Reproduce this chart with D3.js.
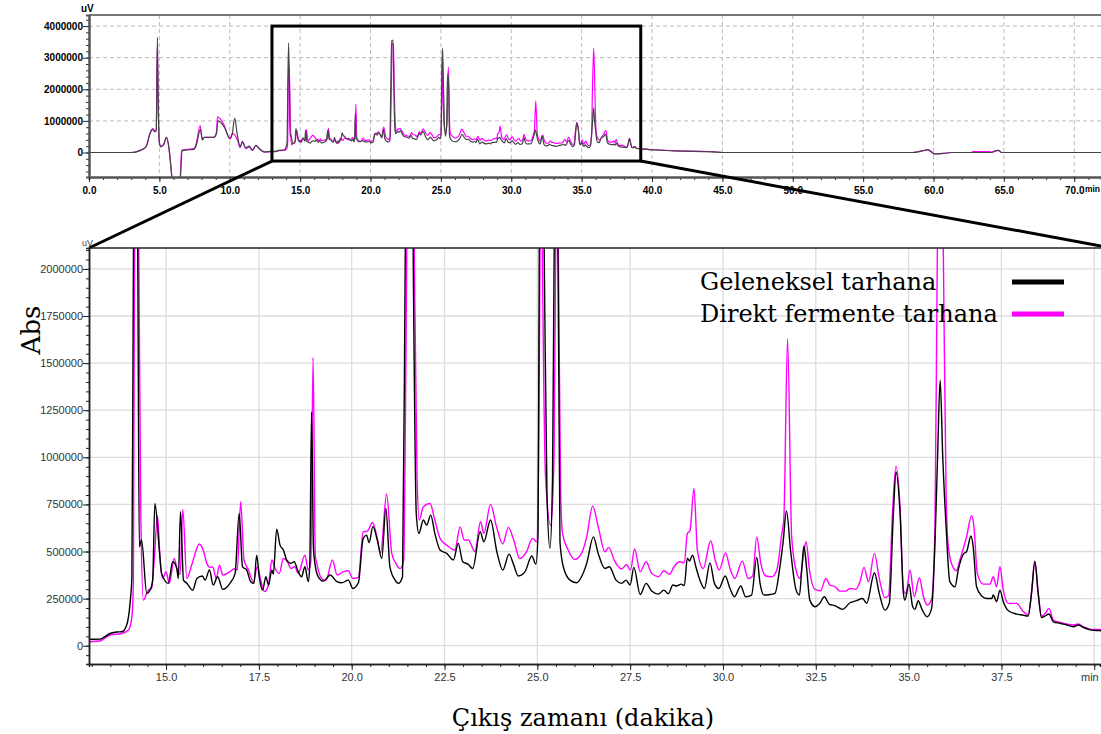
<!DOCTYPE html>
<html>
<head>
<meta charset="utf-8">
<script src="https://cdn.jsdelivr.net/npm/d3@7"></script>
<style>
body { margin: 0; background: #fff; }
text { font-family: "Liberation Sans", Arial, sans-serif; }
</style>
</head>
<body>
<svg id="svg1" width="1101" height="734"></svg>
<script>
// retention time (min), signal (uV)
var geleneksel = [
  [0,0],[3.0,0],[3.6,60000],[4.05,180000],[4.34,600000],[4.53,730000],[4.69,650000],[4.78,700000],[4.86,3640000],[4.93,1200000],
  [5.0,300000],[5.1,180000],[5.3,250000],[5.5,470000],[5.67,180000],[5.83,-500000],[5.95,-1000000],[6.45,-1000000],[6.62,50000],
  [7.0,80000],[7.45,100000],[7.6,200000],[7.92,730000],[8.05,400000],[8.2,480000],[8.87,480000],[9.06,600000],[9.16,1000000],
  [9.59,820000],[10.02,450000],[10.18,600000],[10.35,1080000],[10.54,550000],[10.74,180000],[10.9,350000],[11.14,150000],
  [11.38,200000],[11.62,80000],[11.86,230000],[12.1,130000],[12.45,20000],[12.91,34000],
  [13.22,35000],[13.49,65000],[13.67,73000],[13.81,74000],[13.94,110000],[14.03,225000],[14.08,366000],[14.12,2000000],
  [14.18,3460000],[14.24,2000000],[14.28,525000],[14.34,561000],[14.48,278000],[14.59,304000],[14.64,348000],[14.70,755000],
  [14.82,508000],[14.88,384000],[15.06,331000],[15.18,446000],[15.29,410000],[15.33,357000],[15.39,711000],[15.47,348000],
  [15.56,331000],[15.72,295000],[15.83,357000],[15.98,370000],[16.05,348000],[16.17,402000],[16.27,322000],[16.39,366000],
  [16.53,299000],[16.72,331000],[16.86,384000],[16.97,702000],[17.06,419000],[17.17,402000],[17.28,340000],[17.37,331000],
  [17.44,481000],[17.51,366000],[17.60,295000],[17.69,366000],[17.76,322000],[17.85,402000],[17.89,380000],[17.98,619000],
  [18.07,534000],[18.16,508000],[18.25,455000],[18.36,437000],[18.45,446000],[18.56,393000],[18.65,366000],[18.74,419000],
  [18.83,340000],[18.87,420000],[18.92,1240000],[18.97,520000],[19.01,437000],[19.10,366000],[19.24,343000],[19.42,375000],
  [19.60,340000],[19.73,334000],[19.91,348000],[20.03,304000],[20.18,334000],[20.31,570000],[20.40,587000],[20.47,547000],
  [20.57,632000],[20.69,561000],[20.81,463000],[20.92,729000],[21.03,419000],[21.17,348000],[21.26,331000],[21.37,366000],
  [21.44,2000000],[21.5,3550000],[21.6,3550000],[21.66,2000000],[21.74,700000],[21.81,596000],[21.93,667000],[22.02,640000],
  [22.13,693000],[22.24,596000],[22.38,508000],[22.56,490000],[22.74,455000],[22.87,543000],[22.99,446000],[23.14,432000],
  [23.26,410000],[23.46,605000],[23.56,552000],[23.74,667000],[23.91,499000],[24.07,402000],[24.24,486000],[24.35,437000],
  [24.49,370000],[24.67,393000],[24.85,476000],[24.96,433000],[25.02,600000],[25.05,2000000],[25.12,3300000],[25.19,2000000],
  [25.26,800000],[25.34,517000],[25.41,900000],[25.45,2000000],[25.5,2500000],[25.56,2000000],[25.61,552000],[25.70,419000],
  [25.88,348000],[26.06,334000],[26.19,366000],[26.33,437000],[26.51,578000],[26.64,490000],[26.82,410000],[26.94,419000],
  [27.12,348000],[27.27,331000],[27.39,348000],[27.50,322000],[27.60,416000],[27.77,272000],[27.93,331000],[28.08,290000],
  [28.26,274000],[28.41,295000],[28.53,276000],[28.65,322000],[28.75,317000],[28.87,327000],[28.96,320000],[29.04,464000],
  [29.10,450000],[29.18,481000],[29.27,419000],[29.38,348000],[29.50,304000],[29.65,440000],[29.77,331000],[29.89,304000],
  [30.06,370000],[30.19,304000],[30.31,260000],[30.48,317000],[30.61,260000],[30.77,269000],[30.91,469000],[31.0,330000],
  [31.11,269000],[31.27,272000],[31.40,278000],[31.54,428000],[31.62,550000],[31.71,716000],[31.82,508000],[31.97,295000],
  [32.06,269000],[32.12,400000],[32.18,529000],[32.25,419000],[32.34,242000],[32.48,207000],[32.61,225000],[32.73,260000],
  [32.86,221000],[33.02,212000],[33.22,193000],[33.42,228000],[33.60,239000],[33.76,251000],[33.87,225000],[34.08,387000],
  [34.21,278000],[34.36,189000],[34.48,225000],[34.59,702000],[34.66,923000],[34.77,702000],[34.86,278000],[34.90,242000],
  [35.01,327000],[35.11,207000],[35.17,193000],[35.26,239000],[35.35,198000],[35.50,154000],[35.62,198000],[35.71,543000],
  [35.78,1000000],[35.85,1410000],[35.92,1000000],[36.01,632000],[36.11,340000],[36.25,313000],[36.34,405000],[36.49,490000],
  [36.56,499000],[36.68,582000],[36.74,525000],[36.83,313000],[36.97,264000],[37.10,251000],[37.24,251000],[37.28,269000],
  [37.37,234000],[37.46,295000],[37.55,234000],[37.69,186000],[37.91,168000],[38.07,163000],[38.22,157000],[38.31,278000],
  [38.40,449000],[38.49,278000],[38.58,150000],[38.67,157000],[38.78,168000],[38.90,127000],[39.08,119000],[39.26,110000],
  [39.44,101000],[39.57,110000],[39.71,97000],[39.93,83000],[40.15,80000],
  [41.5,50000],[44.3,20000],[45,0],[58.5,0],[59.2,50000],[59.6,80000],[60.1,-50000],[60.7,-30000],[61.3,0],[64.0,0],
  [64.25,30000],[64.6,70000],[64.85,0],[72,0]
];

var direkt = [
  [0,0],[3.0,0],[3.6,60000],[4.05,190000],[4.34,620000],[4.53,760000],[4.69,680000],[4.78,700000],[4.84,3300000],[4.92,1500000],
  [5.0,320000],[5.1,200000],[5.3,250000],[5.5,480000],[5.67,180000],[5.83,-500000],[5.95,-1000000],[6.45,-1000000],[6.58,80000],
  [7.0,100000],[7.45,120000],[7.6,250000],[7.9,850000],[8.05,420000],[8.2,480000],[8.87,480000],[9.06,650000],[9.13,1130000],
  [9.59,880000],[10.02,420000],[10.18,600000],[10.35,560000],[10.54,400000],[10.74,150000],[10.9,330000],[11.14,120000],
  [11.38,180000],[11.62,60000],[11.86,220000],[12.1,110000],[12.45,10000],[12.91,21000],
  [13.22,25000],[13.49,57000],[13.81,65000],[13.99,83000],[14.08,154000],[14.12,331000],[14.15,2000000],[14.21,2730000],
  [14.27,2000000],[14.32,700000],[14.39,242000],[14.52,295000],[14.61,304000],[14.68,450000],[14.77,690000],[14.84,455000],
  [14.91,357000],[15.0,393000],[15.09,331000],[15.22,463000],[15.33,384000],[15.38,380000],[15.45,723000],[15.56,357000],
  [15.69,428000],[15.90,540000],[16.0,508000],[16.10,437000],[16.18,416000],[16.26,418000],[16.35,357000],[16.44,428000],
  [16.53,375000],[16.72,393000],[16.86,410000],[16.92,402000],[17.01,764000],[17.10,455000],[17.22,402000],[17.35,340000],
  [17.46,419000],[17.55,348000],[17.65,287000],[17.76,322000],[17.85,455000],[17.94,410000],[18.05,384000],[18.16,463000],
  [18.27,446000],[18.36,410000],[18.47,419000],[18.56,384000],[18.74,481000],[18.83,402000],[18.9,450000],[18.96,1530000],
  [19.02,480000],[19.06,437000],[19.19,357000],[19.31,348000],[19.48,455000],[19.61,375000],[19.78,393000],[19.91,398000],
  [20.03,357000],[20.18,363000],[20.31,605000],[20.42,608000],[20.56,654000],[20.67,587000],[20.78,493000],[20.94,805000],
  [21.08,490000],[21.19,437000],[21.30,409000],[21.40,450000],[21.48,2000000],[21.54,3450000],[21.63,3450000],[21.69,2000000],
  [21.76,900000],[21.82,667000],[21.93,738000],[22.11,755000],[22.24,667000],[22.38,570000],[22.56,534000],[22.78,508000],
  [22.92,631000],[23.03,561000],[23.14,561000],[23.32,499000],[23.47,658000],[23.56,596000],[23.74,750000],[23.90,632000],
  [24.07,540000],[24.22,628000],[24.35,570000],[24.53,463000],[24.71,499000],[24.87,570000],[24.98,552000],[25.03,900000],
  [25.07,2000000],[25.1,2900000],[25.14,2000000],[25.22,900000],[25.36,640000],[25.45,1000000],[25.49,2000000],[25.53,2700000],
  [25.57,2000000],[25.63,800000],[25.68,596000],[25.83,508000],[26.01,458000],[26.19,490000],[26.33,578000],[26.49,741000],
  [26.64,632000],[26.82,499000],[26.92,522000],[27.09,446000],[27.27,407000],[27.40,430000],[27.51,402000],[27.62,513000],
  [27.77,393000],[27.93,446000],[28.08,384000],[28.26,366000],[28.41,398000],[28.56,379000],[28.68,419000],[28.84,446000],
  [28.96,440000],[29.04,596000],[29.11,610000],[29.22,835000],[29.31,508000],[29.47,410000],[29.67,557000],[29.79,455000],
  [29.90,402000],[30.07,493000],[30.19,410000],[30.32,357000],[30.52,449000],[30.68,357000],[30.80,370000],[30.91,578000],
  [31.02,437000],[31.16,370000],[31.31,366000],[31.45,402000],[31.58,587000],[31.64,676000],[31.74,1630000],[31.85,578000],
  [31.99,384000],[32.07,357000],[32.18,499000],[32.24,552000],[32.33,402000],[32.48,299000],[32.63,292000],[32.77,357000],
  [32.88,322000],[33.02,313000],[33.15,290000],[33.31,290000],[33.42,304000],[33.58,299000],[33.69,340000],[33.80,416000],
  [33.92,340000],[34.08,490000],[34.21,357000],[34.36,256000],[34.46,265000],[34.57,720000],[34.66,953000],[34.77,737000],
  [34.86,295000],[34.93,278000],[35.04,402000],[35.15,260000],[35.29,361000],[35.40,260000],[35.50,216000],[35.62,246000],
  [35.71,632000],[35.77,2000000],[35.86,3300000],[35.94,2000000],[36.01,808000],[36.07,525000],[36.19,419000],[36.29,398000],
  [36.38,455000],[36.55,569000],[36.70,690000],[36.76,632000],[36.85,384000],[37.01,327000],[37.19,327000],[37.28,366000],
  [37.37,313000],[37.46,419000],[37.55,295000],[37.69,225000],[37.91,225000],[38.07,186000],[38.22,163000],[38.31,280000],
  [38.40,446000],[38.49,280000],[38.58,157000],[38.67,170000],[38.78,198000],[38.90,136000],[39.08,124000],[39.26,115000],
  [39.44,110000],[39.57,115000],[39.71,100000],[39.93,87000],[40.15,87000],
  [41.5,60000],[44.3,30000],[45,0],[58.5,0],[59.2,50000],[59.6,90000],[60.1,-40000],[60.7,-30000],[61.3,0],[62.7,0],[62.8,30000],
  [64.0,30000],[64.1,0],[64.6,70000],[64.85,0],[72,0]
];

var topTimeTicks = d3.range(0, 71, 5);
var topValueTicks = [0, 1000000, 2000000, 3000000, 4000000];
var botTimeTicks = [15, 17.5, 20, 22.5, 25, 27.5, 30, 32.5, 35, 37.5, 40];
var botValueTicks = d3.range(0, 2000001, 250000);
var seriesNames = ["Geleneksel tarhana", "Direkt fermente tarhana"];
var zoomWindow = {t0: 13, t1: 39.2, v0: -270000, v1: 4000000};

var svg = d3.select("#svg1");

// scales
var xTop = d3.scaleLinear().domain([0, 71.9]).range([89, 1101]);
var yTop = d3.scaleLinear().domain([-775000, 4350000]).range([177, 15]);
var xBot = d3.scaleLinear().domain([12.925, 40.155]).range([89, 1100]);
var yBot = d3.scaleLinear().domain([-97000, 2111000]).range([664, 248]);

var defs = svg.append("defs");
defs.append("clipPath").attr("id", "clipTop").append("rect")
  .attr("x", 89).attr("y", 15).attr("width", 1012).attr("height", 162);
defs.append("clipPath").attr("id", "clipBot").append("rect")
  .attr("x", 89).attr("y", 248).attr("width", 1012).attr("height", 416);

// ---------- overview chart ----------
var gTop = svg.append("g");
gTop.selectAll(".vg").data(topTimeTicks.slice(1)).enter().append("line")
  .attr("x1", xTop).attr("x2", xTop).attr("y1", 15).attr("y2", 177)
  .attr("stroke", "#bbb").attr("stroke-dasharray", "4,3");
gTop.selectAll(".hg").data(topValueTicks.slice(1)).enter().append("line")
  .attr("x1", 89).attr("x2", 1101).attr("y1", yTop).attr("y2", yTop)
  .attr("stroke", "#bbb").attr("stroke-dasharray", "4,3");
gTop.append("line").attr("x1", 89).attr("x2", 1101).attr("y1", 15).attr("y2", 15)
  .attr("stroke", "#777").attr("stroke-width", 2);

var lineTop = d3.line()
  .x(function(d) { return xTop(d[0]); })
  .y(function(d) { return yTop(d[1]); })
  .curve(d3.curveMonotoneX);
var topLines = gTop.append("g").attr("clip-path", "url(#clipTop)");
topLines.append("path").datum(direkt)
  .attr("fill", "none").attr("stroke", "#ff00ff").attr("stroke-width", 1.2).attr("d", lineTop);
topLines.append("path").datum(geleneksel)
  .attr("fill", "none").attr("stroke", "#444").attr("stroke-width", 1.2).attr("d", lineTop);

// axes
gTop.append("g").attr("transform", "translate(89,0)")
  .call(d3.axisLeft(yTop).tickValues(d3.range(-600000, 4300001, 200000)).tickSize(3).tickFormat(""));
gTop.append("g").attr("transform", "translate(89,0)")
  .call(d3.axisLeft(yTop).tickValues(topValueTicks).tickSize(6).tickSizeOuter(0).tickFormat(d3.format("d")))
  .selectAll("text").attr("font-size", 10).attr("font-weight", "bold").attr("fill", "#000").attr("dx", 3);
gTop.append("g").attr("transform", "translate(0,177)")
  .call(d3.axisBottom(xTop).tickValues(d3.range(1, 72, 1)).tickSize(3).tickFormat(""));
gTop.append("g").attr("transform", "translate(0,177)")
  .call(d3.axisBottom(xTop).tickValues(topTimeTicks).tickSize(5).tickSizeOuter(0).tickFormat(d3.format(".1f")))
  .selectAll("text").attr("font-size", 10).attr("font-weight", "bold").attr("fill", "#000").attr("dy", "0.9em");
gTop.selectAll(".domain").attr("stroke", "#555").attr("stroke-width", 2);
gTop.selectAll(".tick line").attr("stroke", "#333");
gTop.append("text").attr("x", 1100).attr("y", 192).attr("text-anchor", "end")
  .attr("font-size", 8.5).attr("font-weight", "bold").text("min");
gTop.append("text").attr("x", 81).attr("y", 12).attr("font-size", 10).attr("font-weight", "bold").text("uV");

// zoom box + connectors
svg.append("rect")
  .attr("x", xTop(zoomWindow.t0)).attr("y", yTop(zoomWindow.v1))
  .attr("width", xTop(zoomWindow.t1) - xTop(zoomWindow.t0))
  .attr("height", yTop(zoomWindow.v0) - yTop(zoomWindow.v1))
  .attr("fill", "none").attr("stroke", "#000").attr("stroke-width", 3);
svg.append("line").attr("x1", xTop(zoomWindow.t0)).attr("y1", yTop(zoomWindow.v0))
  .attr("x2", 89).attr("y2", 248).attr("stroke", "#000").attr("stroke-width", 3);
svg.append("line").attr("x1", xTop(zoomWindow.t1)).attr("y1", yTop(zoomWindow.v0))
  .attr("x2", 1101).attr("y2", 246).attr("stroke", "#000").attr("stroke-width", 3);

// ---------- detail chart ----------
var gBot = svg.append("g");
gBot.selectAll(".vg").data(botTimeTicks).enter().append("line")
  .attr("x1", xBot).attr("x2", xBot).attr("y1", 248).attr("y2", 664)
  .attr("stroke", "#ddd").attr("stroke-width", 1.3);
gBot.selectAll(".hg").data(botValueTicks).enter().append("line")
  .attr("x1", 89).attr("x2", 1101).attr("y1", yBot).attr("y2", yBot)
  .attr("stroke", "#ddd").attr("stroke-width", 1.3);

var lineBot = d3.line()
  .x(function(d) { return xBot(d[0]); })
  .y(function(d) { return yBot(d[1]); })
  .curve(d3.curveMonotoneX);
var botLines = gBot.append("g").attr("clip-path", "url(#clipBot)");
botLines.append("path").datum(direkt)
  .attr("fill", "none").attr("stroke", "#ff00ff").attr("stroke-width", 1.4).attr("d", lineBot);
botLines.append("path").datum(geleneksel)
  .attr("fill", "none").attr("stroke", "#000").attr("stroke-width", 1.4).attr("d", lineBot);

gBot.append("line").attr("x1", 89).attr("x2", 1101).attr("y1", 248).attr("y2", 248)
  .attr("stroke", "#222").attr("stroke-width", 1.5);
gBot.append("g").attr("transform", "translate(89,0)")
  .call(d3.axisLeft(yBot).tickValues(d3.range(-50000, 2100001, 50000)).tickSize(3).tickFormat(""));
gBot.append("g").attr("transform", "translate(89,0)")
  .call(d3.axisLeft(yBot).tickValues(botValueTicks).tickSize(6).tickSizeOuter(0).tickFormat(d3.format("d")))
  .selectAll("text").attr("font-size", 11).attr("fill", "#333").attr("dx", 3);
gBot.append("g").attr("transform", "translate(0,664)")
  .call(d3.axisBottom(xBot).tickValues(d3.range(13, 40.1, 0.5)).tickSize(3).tickFormat(""));
var xLabels = gBot.append("g").attr("transform", "translate(0,664)")
  .call(d3.axisBottom(xBot).tickValues(botTimeTicks).tickSize(6).tickSizeOuter(0)
    .tickFormat(function(d) { return d === 40 ? "min" : d3.format(".1f")(d); }))
  .selectAll("text").attr("font-size", 11).attr("fill", "#333").attr("dy", "0.75em");
xLabels.filter(function(d) { return d === 40; }).attr("text-anchor", "end").attr("dx", 4);
gBot.selectAll(".domain").attr("stroke", "#222").attr("stroke-width", 1.5);
gBot.selectAll(".tick line").attr("stroke", "#222");
gBot.append("text").attr("x", 82).attr("y", 246).attr("font-size", 9).attr("fill", "#444").text("uV");

// titles
svg.append("text")
  .attr("transform", "translate(40,330) rotate(-90)")
  .attr("text-anchor", "middle")
  .style("font-family", "'DejaVu Serif', serif").attr("font-size", 26)
  .text("Abs");
svg.append("text")
  .attr("x", 583).attr("y", 726).attr("text-anchor", "middle")
  .style("font-family", "'DejaVu Serif', serif").attr("font-size", 24)
  .text("Çıkış zamanı (dakika)");

// legend
var legendColors = ["#000", "#ff00ff"];
var legend = svg.append("g");
seriesNames.forEach(function(name, i) {
  legend.append("text").attr("x", 700).attr("y", 290 + i * 32)
    .style("font-family", "'DejaVu Serif', serif").attr("font-size", 24)
    .text(name);
  legend.append("line").attr("x1", 1012).attr("x2", 1064)
    .attr("y1", 282 + i * 32).attr("y2", 282 + i * 32)
    .attr("stroke", legendColors[i]).attr("stroke-width", 5);
});
</script>
</body>
</html>
